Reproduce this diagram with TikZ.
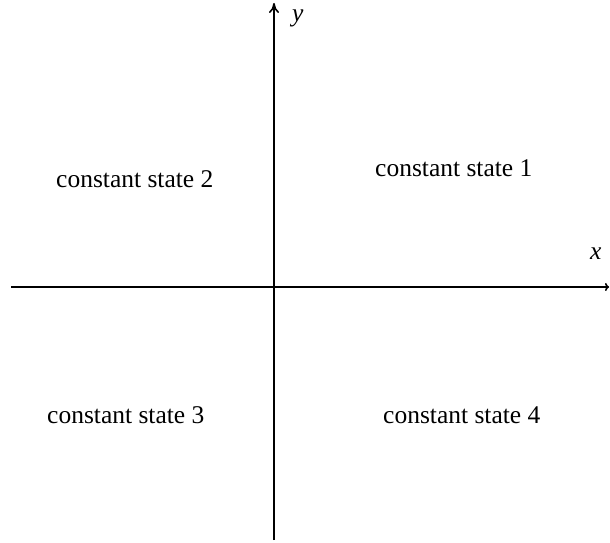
\documentclass[tikz,border=0pt]{standalone}
\usepackage{fontspec}
\usetikzlibrary{arrows.meta}
\setmainfont{Liberation Serif}
\begin{document}
\begin{tikzpicture}[x=1pt,y=-1pt,
  lbl/.style={anchor=base west,inner sep=0pt,font=\fontsize{25.5}{30}\selectfont},
  axis/.style={line width=1.6pt}]
\useasboundingbox (0,0) rectangle (610,543);
\coordinate (xl) at (11,287);
\coordinate (xr) at (609,287);
\coordinate (yb) at (274,540);
\coordinate (yt) at (274,3);
\draw[axis,-{To[length=4pt,width=8pt]}] (xl) -- (xr);
\draw[axis,-{To[length=10pt,width=10pt]}] (yb) -- (yt);
\node[lbl] (ylab) at (292,22) {\textit{y}};
\node[lbl] (xlab) at (590,259) {\textit{x}};
\node[lbl] (s1) at (375,176) {constant state 1};
\node[lbl] (s2) at (56,187) {constant state 2};
\node[lbl] (s3) at (47,423) {constant state 3};
\node[lbl] (s4) at (383,423) {constant state 4};
\end{tikzpicture}
\end{document}
